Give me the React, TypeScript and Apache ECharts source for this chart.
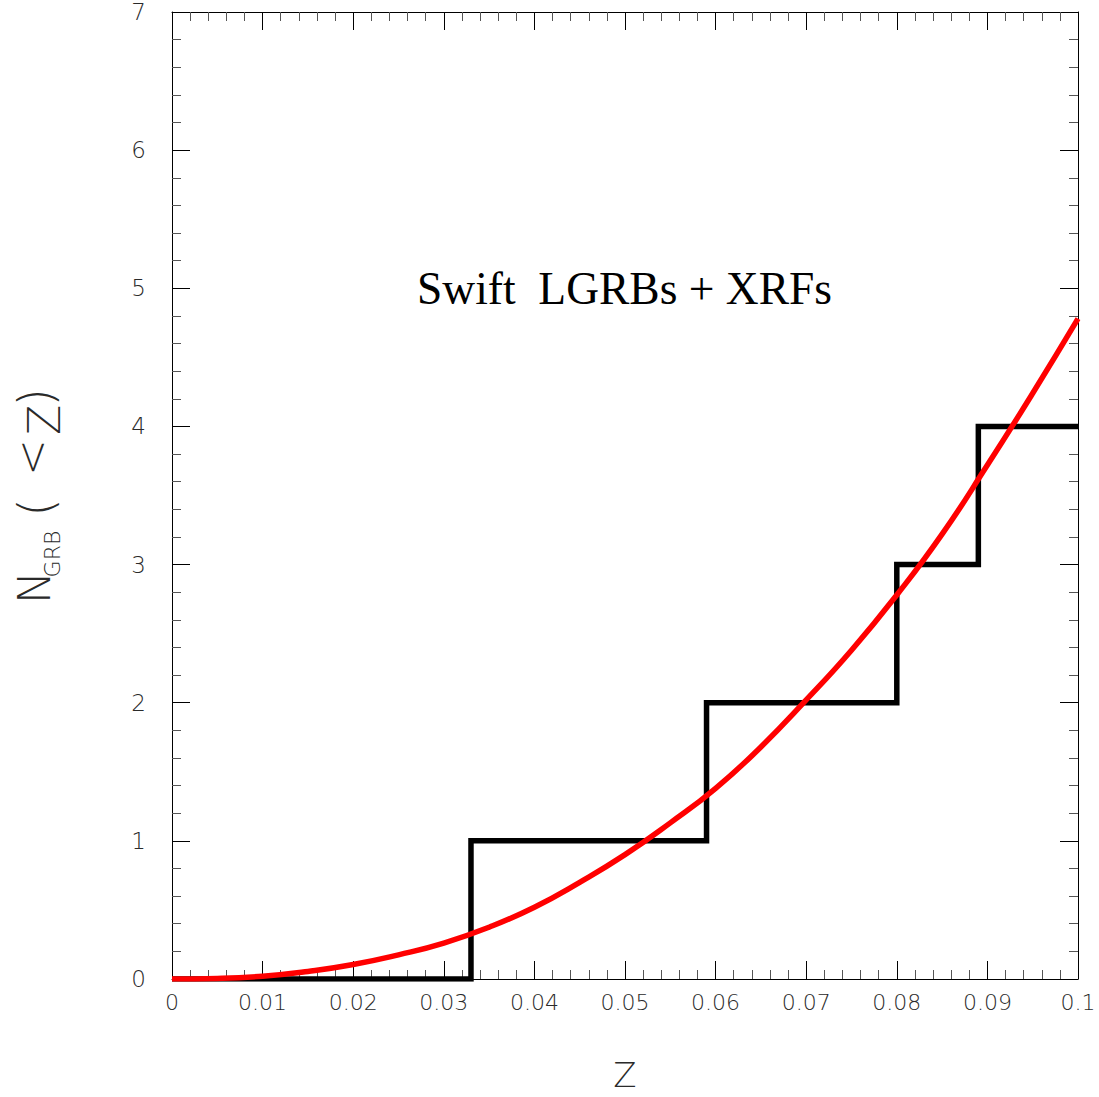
import React, { useEffect, useRef } from "react";
import * as echarts from "echarts";

// Model curve N_GRB(<z)
const zCurve = [0, 0.005, 0.01, 0.015, 0.02, 0.025, 0.03, 0.035, 0.04, 0.045, 0.05, 0.055, 0.06, 0.065, 0.07, 0.075, 0.08, 0.085, 0.09, 0.095, 0.1];
const nCurve = [0, 0.004, 0.02, 0.055, 0.105, 0.175, 0.26, 0.375, 0.52, 0.7, 0.9, 1.13, 1.38, 1.68, 2.02, 2.38, 2.78, 3.22, 3.72, 4.24, 4.78];

// Observed cumulative counts (step at each redshift)
const stepZ = [0, 0.033, 0.059, 0.08, 0.089, 0.1];
const stepN = [0, 1, 2, 3, 4, 4];

const xTickLabels = ["0", "0.01", "0.02", "0.03", "0.04", "0.05", "0.06", "0.07", "0.08", "0.09", "0.1"];
const yTickLabels = ["0", "1", "2", "3", "4", "5", "6", "7"];

const TITLE = "Swift  LGRBs + XRFs";
const FONT = "'DejaVu Sans', sans-serif";

export default function App() {
  const ref = useRef<HTMLDivElement>(null);
  useEffect(() => {
    if (!ref.current) return;
    const chart = echarts.init(ref.current, undefined, { renderer: "svg" });
    const axisLine = { show: true, onZero: false, lineStyle: { color: "#000", width: 1 } };
    const xBase = {
      type: "value",
      min: 0,
      max: 0.1,
      interval: 0.01,
      axisLine,
      axisTick: { show: true, inside: true, length: 18, lineStyle: { color: "#000", width: 1 } },
      minorTick: { show: true, splitNumber: 5, length: 9, lineStyle: { color: "#555", width: 1 } },
      splitLine: { show: false },
      minorSplitLine: { show: false },
    };
    const yBase = {
      type: "value",
      min: 0,
      max: 7,
      interval: 1,
      axisLine,
      axisTick: { show: true, inside: true, length: 18, lineStyle: { color: "#000", width: 1 } },
      minorTick: { show: true, splitNumber: 5, length: 9, lineStyle: { color: "#555", width: 1 } },
      splitLine: { show: false },
      minorSplitLine: { show: false },
    };
    const option: any = {
      animation: false,
      backgroundColor: "#fff",
      grid: { left: 172, right: 21, top: 12, bottom: 118, outerBoundsMode: "none" },
      xAxis: [
        {
          ...xBase,
          position: "bottom",
          axisLabel: {
            show: true,
            margin: 12,
            fontSize: 22,
            fontFamily: FONT,
            fontWeight: 200,
            color: "#2a2a2a",
            formatter: (v: number) => xTickLabels[Math.round(v / 0.01)] ?? "",
          },
        },
        { ...xBase, position: "top", axisLabel: { show: false } },
      ],
      yAxis: [
        {
          ...yBase,
          position: "left",
          axisLabel: {
            show: true,
            margin: 26,
            fontSize: 23,
            fontFamily: FONT,
            fontWeight: 200,
            color: "#2a2a2a",
            formatter: (v: number) => yTickLabels[Math.round(v)] ?? "",
          },
        },
        { ...yBase, position: "right", axisLabel: { show: false } },
      ],
      series: [
        {
          type: "line",
          xAxisIndex: 0,
          yAxisIndex: 0,
          step: "end",
          data: stepZ.map((z, i) => [z, stepN[i]]),
          showSymbol: false,
          symbol: "none",
          lineStyle: { color: "#000", width: 5.5, join: "miter", cap: "butt" },
          z: 2,
        },
        {
          type: "line",
          xAxisIndex: 0,
          yAxisIndex: 0,
          smooth: true,
          data: zCurve.map((z, i) => [z, nCurve[i]]),
          showSymbol: false,
          symbol: "none",
          lineStyle: { color: "#ff0000", width: 5.5 },
          z: 3,
        },
      ],
      graphic: [
        {
          type: "text",
          x: 417,
          y: 288,
          style: {
            text: TITLE,
            fontSize: 45.5,
            fontFamily: "'Liberation Serif', 'Times New Roman', serif",
            fill: "#000",
            align: "left",
            verticalAlign: "middle",
          },
        },
        {
          type: "text",
          x: 625,
          y: 1074.5,
          style: { text: "Z", fontSize: 34, fontFamily: FONT, fontWeight: 200, fill: "#2a2a2a", align: "center", verticalAlign: "middle" },
        },
        {
          type: "group",
          x: 0,
          y: 600,
          rotation: Math.PI / 2,
          children: [
            { type: "text", x: 12.5, y: 34, style: { text: "N", fontSize: 44, fontFamily: FONT, fontWeight: 200, fill: "#2a2a2a", align: "center", verticalAlign: "middle" } },
            { type: "text", x: 46, y: 52, style: { text: "GRB", fontSize: 22, fontFamily: FONT, fontWeight: 200, fill: "#2a2a2a", align: "center", verticalAlign: "middle" } },
            { type: "text", x: 92.5, y: 36, style: { text: "(", fontSize: 48, fontFamily: FONT, fontWeight: 200, fill: "#2a2a2a", align: "center", verticalAlign: "middle" } },
            { type: "text", x: 142.5, y: 31.5, style: { text: "<", fontSize: 44, fontFamily: FONT, fontWeight: 200, fill: "#2a2a2a", align: "center", verticalAlign: "middle" } },
            { type: "text", x: 180, y: 44.5, style: { text: "Z", fontSize: 44, fontFamily: FONT, fontWeight: 200, fill: "#2a2a2a", align: "center", verticalAlign: "middle" } },
            { type: "text", x: 202.5, y: 36, style: { text: ")", fontSize: 48, fontFamily: FONT, fontWeight: 200, fill: "#2a2a2a", align: "center", verticalAlign: "middle" } },
          ],
        },
      ],
    };
    chart.setOption(option);
    return () => chart.dispose();
  }, []);
  return <div ref={ref} style={{ position: "fixed", left: 0, top: 0, width: 1099, height: 1097 }} />;
}
